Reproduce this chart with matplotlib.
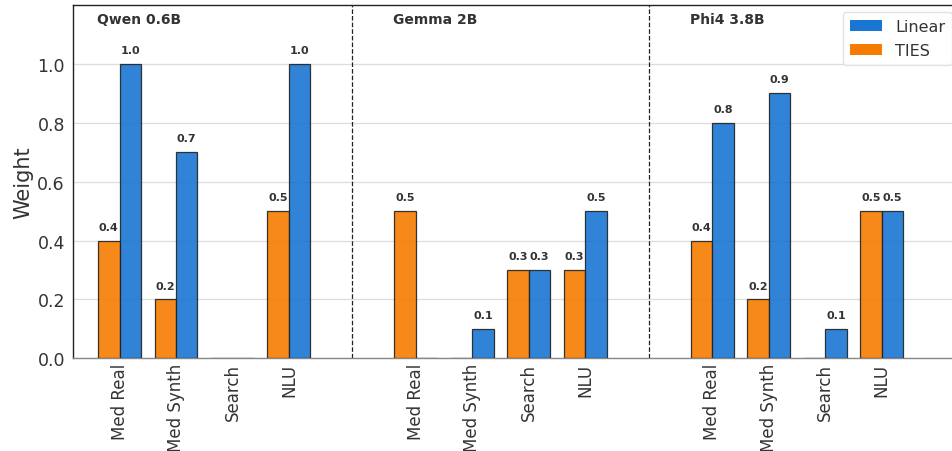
import matplotlib.pyplot as plt
import numpy as np

# Data
models = ['Qwen 0.6B', 'Gemma 2B', 'Phi4 3.8B']
tasks = ['Med Real', 'Med Synth', 'Search', 'NLU']
ties = [
    [0.4, 0.2, 0.0, 0.5],   # Qwen 0.6B
    [0.5, 0.0, 0.3, 0.3],   # Gemma 2B
    [0.4, 0.2, 0.0, 0.5],   # Phi4 3.8B
]
linear = [
    [1.0, 0.7, 0.0, 1.0],
    [0.0, 0.1, 0.3, 0.5],
    [0.8, 0.9, 0.1, 0.5],
]

TIES_COLOR = '#F57C00'
LINEAR_COLOR = '#1976D2'
TEXT_COLOR = '#333333'

group_gap = 5.25
width = 0.38

fig = plt.figure(figsize=(9.52, 4.52), dpi=100)
ax = fig.add_axes([0.077, 0.205, 0.938, 0.782])

xticks, xlabels = [], []
for g, model in enumerate(models):
    x = np.arange(len(tasks)) + g * group_gap
    b1 = ax.bar(x - width / 2, ties[g], width, color=TIES_COLOR, alpha=0.9,
                edgecolor='#222222', linewidth=0.9, zorder=3,
                label='TIES' if g == 0 else None)
    b2 = ax.bar(x + width / 2, linear[g], width, color=LINEAR_COLOR, alpha=0.9,
                edgecolor='#222222', linewidth=0.9, zorder=3,
                label='Linear' if g == 0 else None)
    for bars in (b1, b2):
        for bar in bars:
            h = bar.get_height()
            if h > 0:
                ax.text(bar.get_x() + bar.get_width() / 2, h + 0.03, f'{h:.1f}',
                        ha='center', va='bottom', fontsize=8, fontweight='bold',
                        color=TEXT_COLOR)
    ax.text(x[0] - 0.4, 1.175, model, ha='left', va='top', fontsize=10,
            fontweight='bold', color=TEXT_COLOR)
    if g > 0:
        ax.axvline(g * group_gap - (group_gap - 3) / 2, color='#222222',
                   linestyle='--', linewidth=0.9, zorder=2)
    xticks.extend(x)
    xlabels.extend(tasks)

ax.set_xticks(xticks)
ax.set_xticklabels(xlabels, rotation=90, fontsize=12, color=TEXT_COLOR)
ax.set_xlim(-0.82, 15.0)
ax.set_ylim(0, 1.2)
ax.set_yticks(np.arange(0, 1.01, 0.2))
ax.set_yticklabels([f'{v:.1f}' for v in np.arange(0, 1.01, 0.2)],
                   fontsize=12.5, color=TEXT_COLOR)
ax.set_ylabel('Weight', fontsize=15, color=TEXT_COLOR, labelpad=3)
ax.tick_params(axis='y', length=0, pad=6)
ax.tick_params(axis='x', length=0, pad=3)
ax.yaxis.grid(True, color='#dddddd', linewidth=0.9, zorder=0)
ax.set_axisbelow(True)

for side in ('left', 'top', 'right'):
    ax.spines[side].set_color('#222222')
    ax.spines[side].set_linewidth(1.0)
ax.spines['bottom'].set_color('#888888')
ax.spines['bottom'].set_linewidth(1.0)

handles, labels = ax.get_legend_handles_labels()
leg = ax.legend(handles[::-1], labels[::-1], fontsize=11.5, loc='upper left',
                bbox_to_anchor=(843 / 952, 1 - 13 / 452),
                bbox_transform=fig.transFigure, frameon=True, borderaxespad=0,
                handlelength=2.0, handletextpad=0.8, borderpad=0.45,
                labelspacing=0.55)
leg.get_frame().set_edgecolor('#dddddd')
for t in leg.get_texts():
    t.set_color(TEXT_COLOR)
for h in leg.legend_handles:
    h.set_alpha(1.0)
    h.set_edgecolor('none')

fig.savefig('out.png', dpi=100)
